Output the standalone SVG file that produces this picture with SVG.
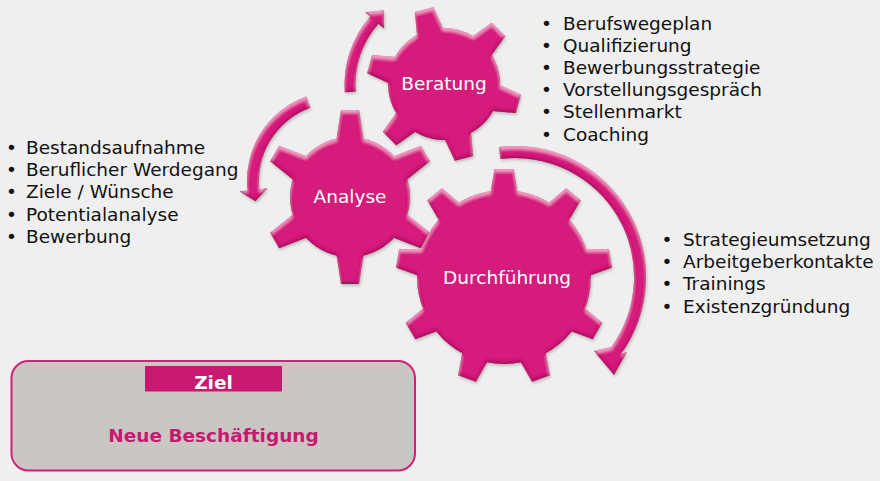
<svg xmlns="http://www.w3.org/2000/svg" xmlns:xlink="http://www.w3.org/1999/xlink" width="880" height="481" viewBox="0 0 880 481">
<style>
.gear{fill:#D51E7C}
.glabel{font-family:"DejaVu Sans",Verdana,sans-serif;font-size:18.5px;fill:#FFFFFF;text-anchor:middle}
.li{font-family:"DejaVu Sans",Verdana,sans-serif;font-size:18.5px;fill:#111111}
.bold{font-family:"DejaVu Sans",Verdana,sans-serif;font-weight:bold;font-size:18.5px;text-anchor:middle}
</style>
<defs>
<filter id="bevel" x="-10%" y="-10%" width="125%" height="125%">
  <feGaussianBlur in="SourceAlpha" stdDeviation="1.5" result="blur"/>
  <feOffset in="blur" dx="0" dy="2.5" result="down"/>
  <feComposite in="SourceAlpha" in2="down" operator="out" result="topEdge"/>
  <feFlood flood-color="#F7A6CF" flood-opacity="0.9"/>
  <feComposite in2="topEdge" operator="in" result="hl"/>
  <feOffset in="blur" dx="0" dy="-2.5" result="up"/>
  <feComposite in="SourceAlpha" in2="up" operator="out" result="botEdge"/>
  <feFlood flood-color="#8E0F4E" flood-opacity="0.8"/>
  <feComposite in2="botEdge" operator="in" result="sh"/>
  <feOffset in="blur" dx="1" dy="2" result="drop"/>
  <feFlood flood-color="#000000" flood-opacity="0.22"/>
  <feComposite in2="drop" operator="in" result="dropc"/>
  <feMerge><feMergeNode in="dropc"/><feMergeNode in="SourceGraphic"/><feMergeNode in="hl"/><feMergeNode in="sh"/></feMerge>
</filter>
<polygon id="toothA" points="-14,-55 -9,-87 9,-87 14,-55"/>
<polygon id="toothB" points="-14,-51 -9.5,-77 9.5,-77 14,-51"/>
<polygon id="toothD" points="-14,-82 -9.5,-108 9.5,-108 14,-82"/>
</defs>
<rect x="0" y="0" width="880" height="481" fill="#EFEFEF"/>

<g id="connectors" fill="#D51E7C" filter="url(#bevel)">
  <path id="arrow-analyse-beratung" d="M344.8,92.3 A104.5,104.5 0 0 1 370.1,16.4 L365.2,12.2 L384.0,10.3 L384.1,28.6 L378.4,23.7 A93.5,93.5 0 0 0 355.7,91.5 Z"/>
  <path id="arrow-to-analyse" d="M306.2,96.4 A90,90 0 0 0 247.5,190.4 L239.5,191.2 L255.5,201.3 L267.4,188.3 L259.4,189.2 A78,78 0 0 1 310.3,107.7 Z"/>
  <path id="arrow-durchfuehrung" d="M499,147 A131,131 0 0 1 621,354 L627,352 L614,375 L594,351 L611.3,347 A119,119 0 0 0 500.5,158.9 Z"/>
</g>

<g id="gear-analyse">
  <g class="gear" filter="url(#bevel)" transform="translate(350,197)">
    <circle cx="0" cy="0" r="60"/>
    <use xlink:href="#toothA"/>
    <use xlink:href="#toothA" transform="rotate(60)"/>
    <use xlink:href="#toothA" transform="rotate(120)"/>
    <use xlink:href="#toothA" transform="rotate(180)"/>
    <use xlink:href="#toothA" transform="rotate(240)"/>
    <use xlink:href="#toothA" transform="rotate(300)"/>
  </g>
  <text class="glabel" x="350" y="203">Analyse</text>
</g>

<g id="gear-beratung">
  <g class="gear" filter="url(#bevel)" transform="translate(444,84)">
    <circle cx="0" cy="0" r="56"/>
    <use xlink:href="#toothB" transform="rotate(-15)"/>
    <use xlink:href="#toothB" transform="rotate(45)"/>
    <use xlink:href="#toothB" transform="rotate(105)"/>
    <use xlink:href="#toothB" transform="rotate(165)"/>
    <use xlink:href="#toothB" transform="rotate(225)"/>
    <use xlink:href="#toothB" transform="rotate(285)"/>
  </g>
  <text class="glabel" x="444" y="90">Beratung</text>
</g>

<g id="gear-durchfuehrung">
  <g class="gear" filter="url(#bevel)" transform="translate(504,277)">
    <circle cx="0" cy="0" r="87"/>
    <use xlink:href="#toothD"/>
    <use xlink:href="#toothD" transform="rotate(40)"/>
    <use xlink:href="#toothD" transform="rotate(80)"/>
    <use xlink:href="#toothD" transform="rotate(120)"/>
    <use xlink:href="#toothD" transform="rotate(160)"/>
    <use xlink:href="#toothD" transform="rotate(200)"/>
    <use xlink:href="#toothD" transform="rotate(240)"/>
    <use xlink:href="#toothD" transform="rotate(280)"/>
    <use xlink:href="#toothD" transform="rotate(320)"/>
  </g>
  <text class="glabel" x="507" y="284">Durchführung</text>
</g>

<g id="list-analyse" class="li">
  <text class="li" x="6" y="153.5">•</text><text class="li" x="26" y="153.5">Bestandsaufnahme</text>
  <text class="li" x="6" y="175.9">•</text><text class="li" x="26" y="175.9">Beruflicher Werdegang</text>
  <text class="li" x="6" y="198.3">•</text><text class="li" x="26" y="198.3">Ziele / Wünsche</text>
  <text class="li" x="6" y="220.7">•</text><text class="li" x="26" y="220.7">Potentialanalyse</text>
  <text class="li" x="6" y="243.1">•</text><text class="li" x="26" y="243.1">Bewerbung</text>
</g>

<g id="list-beratung">
  <text class="li" x="541" y="29.5">•</text><text class="li" x="563" y="29.5">Berufswegeplan</text>
  <text class="li" x="541" y="51.7">•</text><text class="li" x="563" y="51.7">Qualifizierung</text>
  <text class="li" x="541" y="73.9">•</text><text class="li" x="563" y="73.9">Bewerbungsstrategie</text>
  <text class="li" x="541" y="96.1">•</text><text class="li" x="563" y="96.1">Vorstellungsgespräch</text>
  <text class="li" x="541" y="118.3">•</text><text class="li" x="563" y="118.3">Stellenmarkt</text>
  <text class="li" x="541" y="140.5">•</text><text class="li" x="563" y="140.5">Coaching</text>
</g>

<g id="list-durchfuehrung">
  <text class="li" x="661.5" y="246">•</text><text class="li" x="683" y="246">Strategieumsetzung</text>
  <text class="li" x="661.5" y="268.2">•</text><text class="li" x="683" y="268.2">Arbeitgeberkontakte</text>
  <text class="li" x="661.5" y="290.4">•</text><text class="li" x="683" y="290.4">Trainings</text>
  <text class="li" x="661.5" y="312.6">•</text><text class="li" x="683" y="312.6">Existenzgründung</text>
</g>

<g id="ziel">
  <rect x="11.5" y="361" width="403.5" height="109.5" rx="17" ry="17" fill="#C9C6C3" stroke="#CC2378" stroke-width="2"/>
  <rect x="145" y="366" width="137" height="25.5" fill="#C8186F"/>
  <text class="bold" x="213.5" y="389" fill="#FFFFFF">Ziel</text>
  <text class="bold" x="213.5" y="442" fill="#C8186F">Neue Beschäftigung</text>
</g>
</svg>
